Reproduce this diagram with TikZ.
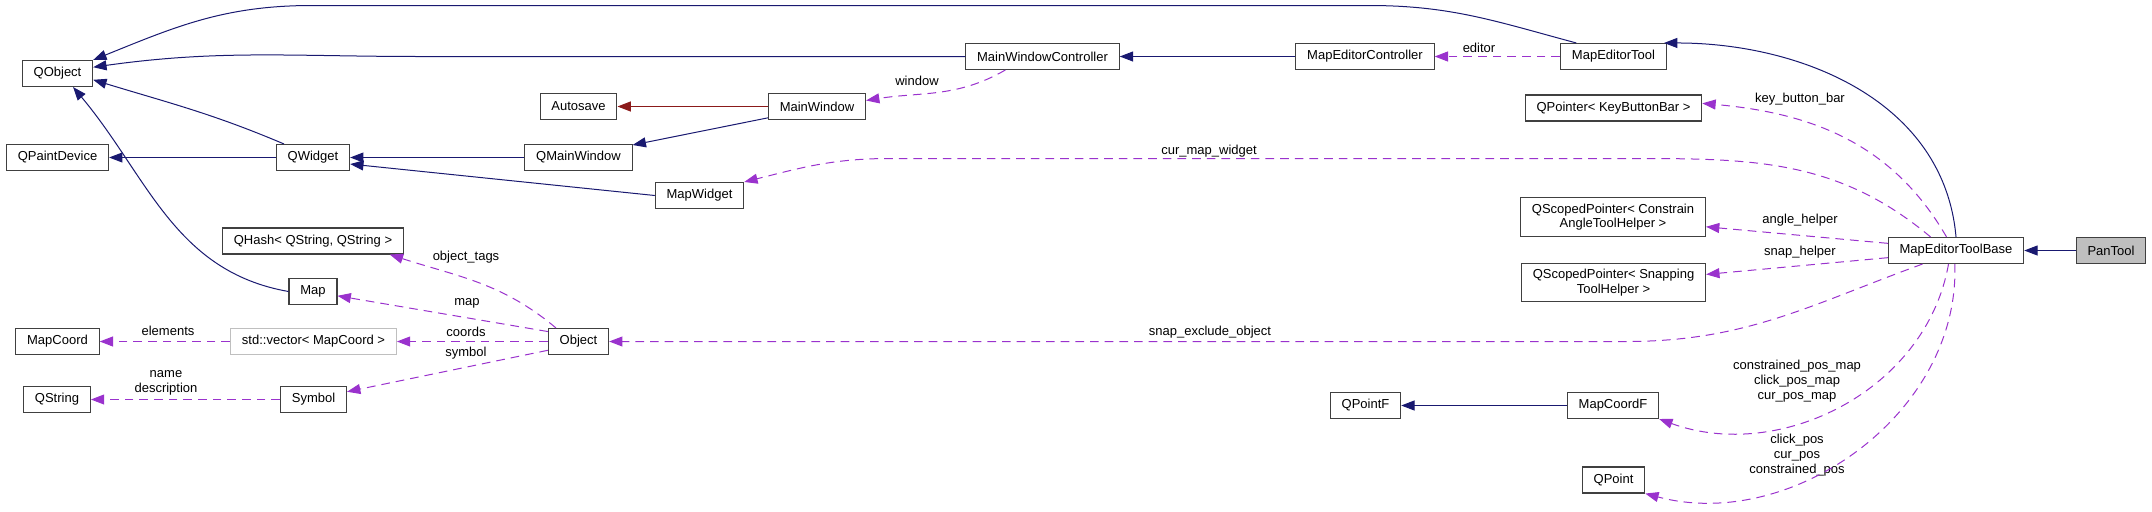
\documentclass[tikz,border=0pt]{standalone}
\usepackage{fontspec}
\setmainfont{Liberation Sans}
\usepackage{tikz}
\usetikzlibrary{arrows.meta}
\definecolor{navy}{HTML}{191970}
\definecolor{purp}{HTML}{9A32CD}
\definecolor{darkred}{HTML}{8B1A1A}
\definecolor{edgegray}{HTML}{BFBFBF}
\newcommand{\dxfont}{\fontsize{9.75}{11}\selectfont}
\tikzset{
  box/.style={draw=black!75,line width=0.8pt,fill=white,rectangle,inner xsep=8.5pt,
    inner ysep=4.5pt,minimum height=19.5pt,align=center,font=\dxfont},
  lbl/.style={inner sep=0pt,align=center,font=\dxfont},
  tip/.style={-{Triangle[length=10pt,width=7.5pt]}},
  inh/.style={tip,draw=navy,line width=0.75pt},
  priv/.style={tip,draw=darkred,line width=0.75pt},
  usage/.style={tip,draw=purp,line width=0.75pt,dash pattern=on 6.5pt off 4.5pt}
}

\begin{document}
\begin{tikzpicture}[x=0.75pt,y=0.75pt]
          \useasboundingbox (0,0) rectangle (2152,-511);
          \node[box] (qobject) at (57.5,-73.5) {QObject};
          \node[box] (qpaintdev) at (57.5,-157.5) {QPaintDevice};
          \node[box] (qwidget) at (313,-157.5) {QWidget};
          \node[box] (autosave) at (578.5,-106.5) {Autosave};
          \node[box] (qmainwin) at (578.5,-157.5) {QMainWindow};
          \node[box] (mapwidget) at (699.5,-195.5) {MapWidget};
          \node[box] (mwctrl) at (1042.5,-56.5) {MainWindowController};
          \node[box] (mainwin) at (817,-106.5) {MainWindow};
          \node[box] (mectrl) at (1365,-56.5) {MapEditorController};
          \node[box] (metool) at (1613.5,-56.5) {MapEditorTool};
          \node[box] (qptr) at (1613.5,-108) {QPointer< KeyButtonBar >};
          \node[box] (qsca) at (1613,-217) {QScopedPointer< Constrain\\AngleToolHelper >};
          \node[box] (qscs) at (1613.5,-282.5) {QScopedPointer< Snapping\\ToolHelper >};
          \node[box] (metb) at (1956,-250.5) {MapEditorToolBase};
          \node[box,fill=edgegray] (pantool) at (2111,-250.5) {PanTool};
          \node[box] (qhash) at (313,-241) {QHash< QString, QString >};
          \node[box] (map) at (313,-291.5) {Map};
          \node[box] (mapcoord) at (57.5,-341.5) {MapCoord};
          \node[box,draw=edgegray] (vec) at (313.5,-341.5) {std::vector< MapCoord >};
          \node[box] (obj) at (578.5,-341.5) {Object};
          \node[box] (qstring) at (57,-399.5) {QString};
          \node[box] (sym) at (313.5,-399.5) {Symbol};
          \node[box] (qpointf) at (1365.5,-405.5) {QPointF};
          \node[box] (mcf) at (1613,-405.5) {MapCoordF};
          \node[box] (qpoint) at (1613.5,-480) {QPoint};
          \node[lbl] (lbleditor) at (1479,-48) {editor};
          \node[lbl] (lblwindow) at (917,-81) {window};
          \node[lbl] (lblkeybar) at (1800,-99) {key\_button\_bar};
          \node[lbl] (lblwidget) at (1209,-151) {cur\_map\_widget};
          \node[lbl] (lblangle) at (1800,-220) {angle\_helper};
          \node[lbl] (lblsnap) at (1800,-252) {snap\_helper};
          \node[lbl] (lblexclude) at (1210,-332) {snap\_exclude\_object};
          \node[lbl] (lbltags) at (466,-257) {object\_tags};
          \node[lbl] (lblmap) at (467,-303) {map};
          \node[lbl] (lblcoords) at (466,-332) {coords};
          \node[lbl] (lblsymbol) at (466,-353) {symbol};
          \node[lbl] (lblelements) at (168,-331) {elements};
          \node[lbl] (lblname) at (166,-383) {name\\description};
          \node[lbl] (lblposmap) at (1797,-381) {constrained\_pos\_map\\click\_pos\_map\\cur\_pos\_map};
          \node[lbl] (lblpos) at (1797,-455) {click\_pos\\cur\_pos\\constrained\_pos};
          \draw[inh] (pantool) -- (metb);
          \draw[inh] (metb.north) to[out=95,in=0] (metool.15);
          \draw[usage] (metool) -- (mectrl);
          \draw[inh] (mectrl) -- (mwctrl);
          \draw[inh] (mwctrl.west) -- (420,-56.5) to[out=180,in=8] (qobject.10);
          \draw[inh] (metool.160) to[out=165,in=0] (1369,-5.5) -- (312,-5.5) to[out=180,in=22] (qobject.north east);
          \draw[inh] (qwidget.155) to[out=157,in=-17] (qobject.-10);
          \draw[inh] (qwidget) -- (qpaintdev);
          \draw[inh] (qmainwin) -- (qwidget);
          \draw[inh] (mapwidget.west) -- (qwidget.-10);
          \draw[inh] (mainwin.193) -- (qmainwin.13);
          \draw[priv] (mainwin) -- (autosave);
          \draw[usage] (mwctrl.200) to[out=-150,in=9] (mainwin.7);
          \draw[usage] (metb.125) to[out=120,in=-5] (qptr.3);
          \draw[usage] (metb.152) to[out=140,in=0] (1630,-158.5) -- (890,-158.5) to[out=180,in=14] (mapwidget.north east);
          \draw[usage] (metb.174) -- (qsca.-6);
          \draw[usage] (metb.186) -- (qscs.5);
          \draw[usage] (metb.-158) to[out=-160,in=0] (1626,-341.5) -- (obj.east);
          \draw[usage] (metb.-119) to[out=-100,in=-20] (mcf.south east);
          \draw[usage] (metb.-95) to[out=-88,in=-15] (qpoint.south east);
          \draw[inh] (mcf) -- (qpointf);
          \draw[usage] (obj.149) to[out=140,in=-18] (qhash.-10);
          \draw[usage] (obj.162) -- (map.-10);
          \draw[usage] (obj) -- (vec);
          \draw[usage] (vec) -- (mapcoord);
          \draw[usage] (obj.-164) -- (sym.13);
          \draw[usage] (sym) -- (qstring);
          \draw[inh] (map.west) to[out=170,in=-50] (qobject.-41);
        \end{tikzpicture}
\end{document}
